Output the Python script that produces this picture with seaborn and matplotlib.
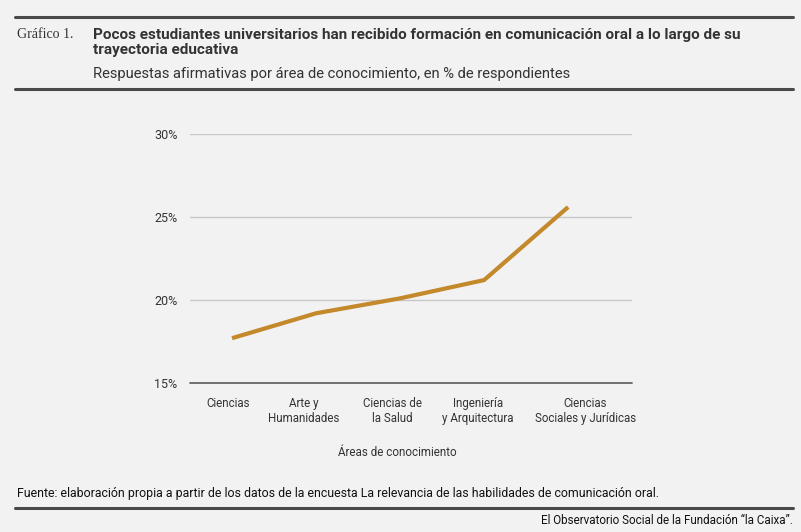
import pandas as pd
import matplotlib.pyplot as plt
import matplotlib.transforms as mtransforms
import seaborn as sns
from matplotlib.lines import Line2D
from matplotlib.ticker import FuncFormatter

areas = ['Ciencias', 'Arte y\nHumanidades', 'Ciencias de\nla Salud',
         'Ingeniería\ny Arquitectura', 'Ciencias\nSociales y Jurídicas']
porcentaje = [17.7, 19.2, 20.1, 21.2, 25.6]
yticks = [15, 20, 25, 30]

BG = '#f2f2f2'
LINE = '#c3892a'
DARK = '#333333'

sns.set_theme(style='white')
plt.rcParams['font.family'] = ['Roboto', 'DejaVu Sans']

df = pd.DataFrame({'area': areas, 'pct': porcentaje})

fig = plt.figure(figsize=(8.01, 5.32), dpi=100, facecolor=BG)
W, H = 801, 532
ax = fig.add_axes([190 / W, 1 - 383 / H, (632 - 190) / W, (383 - 134) / H])
ax.set_facecolor(BG)

sns.lineplot(data=df, x='area', y='pct', ax=ax, color=LINE, linewidth=3.0,
             solid_capstyle='butt', sort=False)

ax.set_ylim(15, 30)
ax.set_xlim(-0.5, 4.76)
ax.set_yticks(yticks)
ax.yaxis.set_major_formatter(FuncFormatter(lambda v, p: f'{int(v)}%'))
for v in yticks[1:]:
    ax.axhline(v, color='#c8c8c8', linewidth=1.0, zorder=0)
ax.axhline(15, color='#666666', linewidth=1.3, zorder=1, clip_on=False)
for s in ax.spines.values():
    s.set_visible(False)
ax.tick_params(axis='both', length=0, colors=DARK)
ax.tick_params(axis='x', pad=10, labelsize=8.3)
ax.tick_params(axis='y', pad=9, labelsize=9)
ax.set_ylabel('')
ax.set_xlabel('Áreas de conocimiento', fontsize=8.4, color=DARK)
ax.xaxis.set_label_coords(0.468, -0.255)

# tick labels in the original sit a little off the points
shifts = [-4, -12, -8, -6, 17]
for lab, dx in zip(ax.get_xticklabels(), shifts):
    lab.set_transform(lab.get_transform() +
                      mtransforms.ScaledTranslation(dx / 100, 0, fig.dpi_scale_trans))

def rule(y, lw):
    fig.add_artist(Line2D([15 / W, 793 / W], [1 - y / H, 1 - y / H],
                          color='#4a4a4a', linewidth=lw, transform=fig.transFigure))

rule(17, 2.2)
rule(89, 2.2)
rule(508, 2.2)

fig.text(17 / W, 1 - 34 / H, 'Gráfico 1.', fontsize=10, color=DARK,
         family=['Liberation Serif'], va='center', ha='left')
fig.text(93 / W, 1 - 42.5 / H,
         'Pocos estudiantes universitarios han recibido formación en comunicación oral a lo largo de su\ntrayectoria educativa',
         fontsize=11, fontweight='bold', color=DARK, va='center', ha='left', linespacing=1.1)
fig.text(93 / W, 1 - 74 / H,
         'Respuestas afirmativas por área de conocimiento, en % de respondientes',
         fontsize=10.6, color=DARK, va='center', ha='left')
fig.text(17 / W, 1 - 493 / H,
         'Fuente: elaboración propia a partir de los datos de la encuesta La relevancia de las habilidades de comunicación oral.',
         fontsize=8.9, color='#111111', va='center', ha='left')
fig.text(793 / W, 1 - 521 / H, 'El Observatorio Social de la Fundación “la Caixa”.',
         fontsize=8.4, color='#111111', va='center', ha='right')

fig.savefig('out.png', dpi=100, facecolor=BG)
